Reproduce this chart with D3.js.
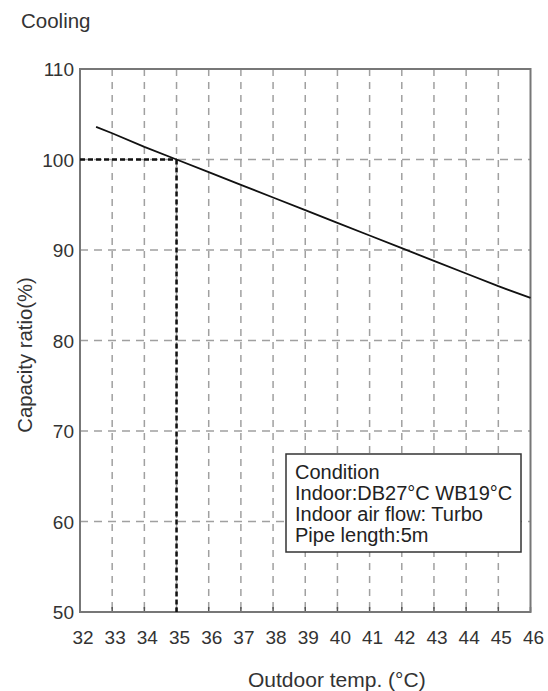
<!DOCTYPE html>
<html>
<head>
<meta charset="utf-8">
<script src="https://cdn.jsdelivr.net/npm/d3@7"></script>
<style>
  html, body { margin: 0; padding: 0; background: #fff; }
  svg { display: block; font-family: "Liberation Sans", Arial, sans-serif; }
</style>
</head>
<body>
<svg id="chart" width="548" height="691"></svg>
<script>
// ---- data ----
const temps = [32.5, 33, 34, 35, 36, 37, 38, 39, 40, 41, 42, 43, 44, 45, 46];
const capacity = [103.6, 102.9, 101.4, 100.0, 98.6, 97.2, 95.8, 94.4, 93.0, 91.6, 90.2, 88.8, 87.4, 86.0, 84.7];
const xTicks = [32, 33, 34, 35, 36, 37, 38, 39, 40, 41, 42, 43, 44, 45, 46];
const yTicks = [50, 60, 70, 80, 90, 100, 110];
const refPoint = [35, 100];
const title = "Cooling";
const xTitle = "Outdoor temp. (°C)";
const yTitle = "Capacity ratio(%)";
const conditionLines = ["Condition", "Indoor:DB27°C WB19°C", "Indoor air flow: Turbo", "Pipe length:5m"];

// ---- layout ----
const svg = d3.select("#chart");
const pLeft = 80, pRight = 530.5, pTop = 69, pBottom = 612;
const x = d3.scaleLinear().domain([32, 46]).range([pLeft, pRight]);
const y = d3.scaleLinear().domain([50, 110]).range([pBottom, pTop]);
const textColor = "#333";

// grid lines
const grid = svg.append("g");
grid.selectAll("line.v").data(xTicks.filter(d => d > 32 && d < 46)).join("line")
  .attr("x1", d => x(d)).attr("x2", d => x(d))
  .attr("y1", pTop).attr("y2", pBottom)
  .attr("stroke", "#a0a0a0").attr("stroke-width", 1.5)
  .attr("stroke-dasharray", "7,6");
grid.selectAll("line.h").data(yTicks.filter(d => d > 50 && d < 110)).join("line")
  .attr("x1", pLeft).attr("x2", pRight)
  .attr("y1", d => y(d)).attr("y2", d => y(d))
  .attr("stroke", "#a0a0a0").attr("stroke-width", 1.5)
  .attr("stroke-dasharray", "8,6");

// bottom inner ticks
svg.append("g").selectAll("line").data(xTicks).join("line")
  .attr("x1", d => x(d)).attr("x2", d => x(d))
  .attr("y1", pBottom).attr("y2", pBottom - 5)
  .attr("stroke", "#555").attr("stroke-width", 1.5);

// frame
svg.append("rect")
  .attr("x", pLeft).attr("y", pTop)
  .attr("width", pRight - pLeft).attr("height", pBottom - pTop)
  .attr("fill", "none").attr("stroke", "#777").attr("stroke-width", 2);

// reference dashed lines
svg.append("line")
  .attr("x1", x(32)).attr("x2", x(refPoint[0]))
  .attr("y1", y(refPoint[1])).attr("y2", y(refPoint[1]))
  .attr("stroke", "#111").attr("stroke-width", 2.5).attr("stroke-dasharray", "5,3");
svg.append("line")
  .attr("x1", x(refPoint[0])).attr("x2", x(refPoint[0]))
  .attr("y1", y(refPoint[1])).attr("y2", y(50))
  .attr("stroke", "#111").attr("stroke-width", 2.5).attr("stroke-dasharray", "5,3");

// data line
svg.append("path")
  .datum(temps.map((t, i) => [t, capacity[i]]))
  .attr("d", d3.line().x(d => x(d[0])).y(d => y(d[1])))
  .attr("fill", "none").attr("stroke", "#111").attr("stroke-width", 1.8);

// tick labels
svg.append("g").selectAll("text").data(xTicks).join("text")
  .attr("x", d => x(d) + 3).attr("y", 644)
  .attr("text-anchor", "middle").attr("font-size", 19).attr("fill", textColor)
  .text(d => d);
svg.append("g").selectAll("text").data(yTicks).join("text")
  .attr("x", 74).attr("y", d => y(d) + 7)
  .attr("text-anchor", "end").attr("font-size", 19).attr("fill", textColor)
  .text(d => d);

// titles
svg.append("text").attr("x", 21).attr("y", 28).attr("font-size", 20.5).attr("fill", textColor).text(title);
svg.append("text").attr("x", 248).attr("y", 687).attr("font-size", 21).attr("fill", textColor).text(xTitle);
svg.append("text")
  .attr("transform", "translate(32,355) rotate(-90)")
  .attr("text-anchor", "middle").attr("font-size", 20.3).attr("fill", textColor).text(yTitle);

// condition box
const box = svg.append("g");
box.append("rect")
  .attr("x", 286).attr("y", 454).attr("width", 235).attr("height", 98)
  .attr("fill", "#fff").attr("stroke", "#333").attr("stroke-width", 1.5);
box.selectAll("text").data(conditionLines).join("text")
  .attr("x", 295).attr("y", (d, i) => 479 + i * 21)
  .attr("font-size", 20).attr("fill", "#222")
  .text(d => d);
</script>
</body>
</html>
